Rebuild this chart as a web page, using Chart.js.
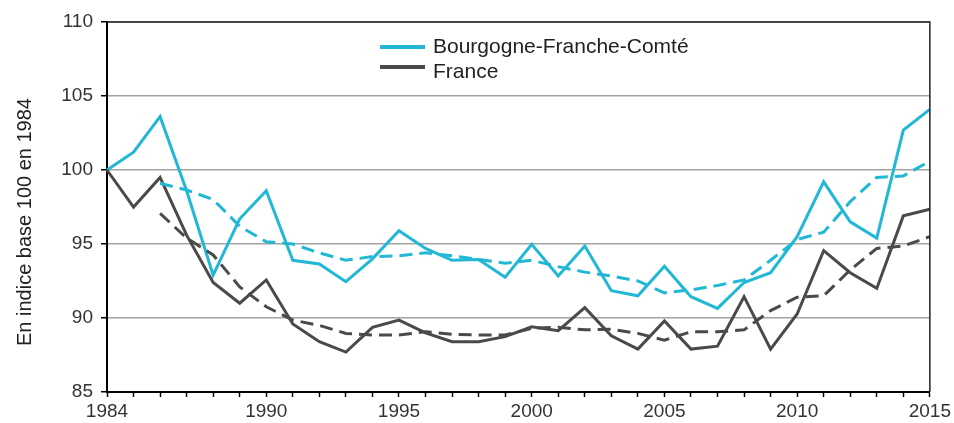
<!DOCTYPE html>
<html>
<head>
<meta charset="utf-8">
<script src="https://cdn.jsdelivr.net/npm/chart.js@4.4.1/dist/chart.umd.min.js"></script>
<style>
  html, body { margin: 0; padding: 0; background: #fff; }
  #cChart { display: block; }
</style>
</head>
<body>
<canvas id="cChart" width="954" height="423"></canvas>
<script>
// années 1984 -> 2015
var years = [];
for (var y = 1984; y <= 2015; y++) years.push(String(y));

var shownYears = ['1984', '1990', '1995', '2000', '2005', '2010', '2015'];

var bfcValues = [100, 101.2, 103.6, 98.6, 92.9, 96.7, 98.6, 93.9, 93.65, 92.45,
  94.0, 95.9, 94.7, 93.9, 93.95, 92.75, 94.98, 92.84, 94.86, 91.84,
  91.5, 93.5, 91.44, 90.65, 92.4, 93.06, 95.5, 99.2, 96.5, 95.4,
  102.7, 104.1];

var bfcTrend = [null, null, 99.1, 98.65, 98.0, 96.2, 95.15, 95.0, 94.4, 93.9,
  94.15, 94.2, 94.4, 94.2, 93.96, 93.7, 93.9, 93.47, 93.1, 92.84,
  92.5, 91.7, 91.9, 92.2, 92.57, 93.9, 95.3, 95.8, 97.86, 99.5,
  99.6, 100.6];

var franceValues = [100, 97.5, 99.5, 95.6, 92.4, 91.0, 92.57, 89.6, 88.4, 87.7,
  89.37, 89.86, 89.0, 88.4, 88.4, 88.74, 89.4, 89.14, 90.7, 88.8,
  87.9, 89.8, 87.9, 88.1, 91.44, 87.9, 90.27, 94.55, 93.06, 92.0,
  96.9, 97.35];

var franceTrend = [null, null, 97.07, 95.4, 94.26, 92.1, 90.76, 89.86, 89.5, 88.96,
  88.85, 88.85, 89.07, 88.9, 88.85, 88.85, 89.3, 89.37, 89.2, 89.24,
  88.96, 88.5, 89.07, 89.07, 89.2, 90.5, 91.4, 91.5, 93.25, 94.7,
  94.86, 95.5];

var seriesNames = ['Bourgogne-Franche-Comté', 'France'];
var yTitle = 'En indice base 100 en 1984';

var cyan = '#22B8D5';
var grey = '#4A4A4A';
var font = '"Liberation Sans", Arial, sans-serif';

// légende, cadre et titre de l'axe dessinés à la main
var extras = {
  id: 'extras',
  afterDraw: function(chart) {
    var ctx = chart.ctx;
    var a = chart.chartArea;
    ctx.save();
    // cadre haut et droite
    ctx.strokeStyle = '#222';
    ctx.lineWidth = 1.5;
    ctx.beginPath();
    ctx.moveTo(a.left, a.top);
    ctx.lineTo(a.right, a.top);
    ctx.lineTo(a.right, a.bottom);
    ctx.stroke();

    // légende
    var cols = [cyan, grey];
    var lineY = [47, 67];
    var textY = [47, 72];
    ctx.font = '21px ' + font;
    ctx.textBaseline = 'middle';
    ctx.textAlign = 'left';
    for (var i = 0; i < 2; i++) {
      ctx.strokeStyle = cols[i];
      ctx.lineWidth = 4;
      ctx.beginPath();
      ctx.moveTo(380, lineY[i]);
      ctx.lineTo(425, lineY[i]);
      ctx.stroke();
      ctx.fillStyle = '#222';
      ctx.fillText(seriesNames[i], 433, textY[i]);
    }

    // titre axe y
    ctx.font = '20px ' + font;
    ctx.translate(25, 222);
    ctx.rotate(-Math.PI / 2);
    ctx.textAlign = 'center';
    ctx.fillText(yTitle, 0, 0);
    ctx.restore();
  }
};

var ctx = document.getElementById('cChart');
var chartInstance = new Chart(ctx, {
  type: 'line',
  data: {
    labels: years,
    datasets: [
      { data: franceTrend, borderColor: grey, borderDash: [13, 7], borderWidth: 3, pointRadius: 0, tension: 0, fill: false },
      { data: bfcTrend, borderColor: cyan, borderDash: [13, 7], borderWidth: 3, pointRadius: 0, tension: 0, fill: false },
      { data: franceValues, borderColor: grey, borderWidth: 3, pointRadius: 0, tension: 0, fill: false },
      { data: bfcValues, borderColor: cyan, borderWidth: 3, pointRadius: 0, tension: 0, fill: false }
    ]
  },
  options: {
    responsive: false,
    animation: false,
    maintainAspectRatio: false,
    devicePixelRatio: 1,
    layout: { padding: { top: 22, right: 24, left: 0, bottom: 0 } },
    plugins: { legend: { display: false }, tooltip: { enabled: false } },
    scales: {
      x: {
        offset: false,
        afterFit: function(s) { s.height = 31; },
        grid: { drawOnChartArea: false, tickLength: 5, tickColor: '#000', tickWidth: 1.5 },
        border: { color: '#000', width: 2 },
        ticks: {
          autoSkip: false, maxRotation: 0, padding: 3,
          color: '#333', font: { family: font, size: 19 },
          callback: function(v) {
            var l = this.getLabelForValue(v);
            return shownYears.indexOf(l) >= 0 ? l : '';
          }
        }
      },
      y: {
        min: 85, max: 110,
        afterFit: function(s) { s.width = 107; },
        grid: { color: '#A3A3A3', lineWidth: 1.5, tickLength: 6, tickColor: '#000', tickWidth: 1.5 },
        border: { color: '#000', width: 2 },
        ticks: { stepSize: 5, padding: 8, color: '#333', font: { family: font, size: 19 } }
      }
    }
  },
  plugins: [extras]
});
</script>
</body>
</html>
